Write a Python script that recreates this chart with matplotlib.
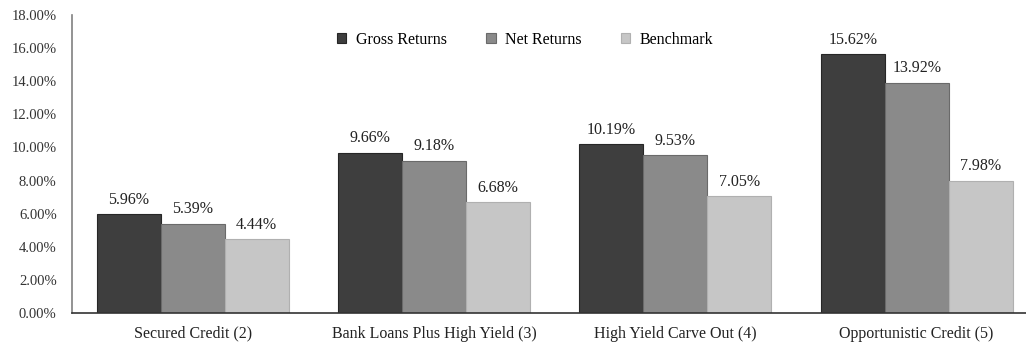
import numpy as np
import matplotlib
matplotlib.use("Agg")
from matplotlib import pyplot as plt

plt.rcParams['font.family'] = ['Liberation Serif', 'DejaVu Serif']

categories = ["Secured Credit (2)", "Bank Loans Plus High Yield (3)",
              "High Yield Carve Out (4)", "Opportunistic Credit (5)"]
series_names = ["Gross Returns", "Net Returns", "Benchmark"]
gross = [5.96, 9.66, 10.19, 15.62]
net = [5.39, 9.18, 9.53, 13.92]
bench = [4.44, 6.68, 7.05, 7.98]

colors = ["#3e3e3e", "#8a8a8a", "#c6c6c6"]
edges = ["#262626", "#6a6a6a", "#b0b0b0"]

fig = plt.figure(figsize=(10.26, 3.48), dpi=100)
ax = fig.add_axes([72 / 1026, 1 - 313 / 348, 1 - 72 / 1026, 298 / 348])

x = np.arange(len(categories))
w = 0.265
for i, (vals, name) in enumerate(zip([gross, net, bench], series_names)):
    pos = x + (i - 1) * w
    bars = ax.bar(pos, vals, w, color=colors[i], edgecolor=edges[i],
                  linewidth=0.8, label=name)
    for b, v in zip(bars, vals):
        ax.text(b.get_x() + b.get_width() / 2, v + 0.4, f"{v:.2f}%",
                ha="center", va="bottom", fontsize=11.5, color="#222222")

ax.set_xlim(-0.5, 3.453)
ax.set_ylim(0, 18)
ax.set_yticks(np.arange(0, 18.1, 2))
ax.set_yticklabels([f"{t:.2f}%" for t in np.arange(0, 18.1, 2)],
                   fontsize=10.5, color="#333333")
ax.set_xticks(x)
ax.set_xticklabels(categories, fontsize=11.5, color="#222222")
ax.tick_params(axis="y", length=0, pad=11)
ax.tick_params(axis="x", length=0, pad=9)

for s in ["top", "right"]:
    ax.spines[s].set_visible(False)
ax.spines["left"].set_color("#808080")
ax.spines["left"].set_linewidth(1.2)
ax.spines["bottom"].set_color("#333333")
ax.spines["bottom"].set_linewidth(1.2)

ax.legend(loc="center", bbox_to_anchor=(0.475, 0.916), ncol=3, frameon=False,
          fontsize=11.5, handlelength=0.6, handleheight=0.6, handletextpad=0.6,
          columnspacing=2.45)

fig.savefig("out.png", dpi=100)
